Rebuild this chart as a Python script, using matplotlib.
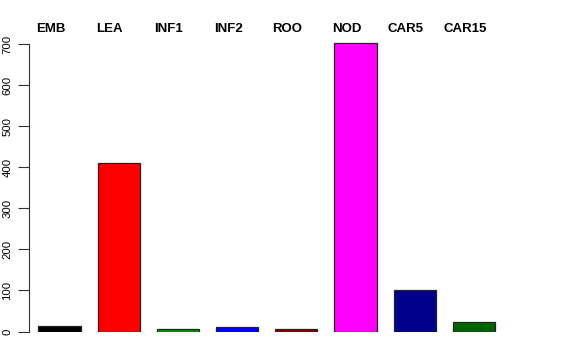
import numpy as np
import matplotlib
matplotlib.use("Agg")
import matplotlib.pyplot as plt

plt.rcParams['font.family'] = ['Liberation Sans', 'DejaVu Sans']

# sample groups and their values
groups = ["EMB", "LEA", "INF1", "INF2", "ROO", "NOD", "CAR5", "CAR15"]
values = [14, 411, 7, 10, 6, 702, 102, 24]
colors = ["black", "red", "#009a00", "blue", "#8b0000", "magenta", "#00008b", "#006400"]
yticks = [0, 100, 200, 300, 400, 500, 600, 700]

W, H = 576, 360
fig = plt.figure(figsize=(W / 100, H / 100), dpi=100)

# axes placed in pixel units to mimic the R barplot layout
unit = 59.2          # px per bar step
left_px = 29
x0 = -(59.5 - left_px) / unit
x1 = 7.8
bottom_px = H - 331.5
ppu = 287.5 / 700    # px per data unit
ytop = 712
ax = fig.add_axes([left_px / W, bottom_px / H,
                   (x1 - x0) * unit / W, ytop * ppu / H])

x = np.arange(len(groups))
ax.bar(x, values, width=0.71, color=colors, edgecolor="#222222", linewidth=0.9)

ax.set_xlim(x0, x1)
ax.set_ylim(0, ytop)
for s in ["top", "right", "bottom"]:
    ax.spines[s].set_visible(False)
ax.spines["left"].set_bounds(0, 700)
ax.spines["left"].set_color("#333333")
ax.set_xticks([])
ax.set_yticks(yticks)
ax.set_yticklabels([str(t) for t in yticks], rotation=90, va="center")
ax.tick_params(axis="y", length=8, width=0.8, color="#333333", labelsize=8.2, pad=4)

# group names along the top
for xi, g in zip(x, groups):
    fig.text((left_px + (xi - x0) * unit - 9) / W, 1 - 29.5 / H, g,
             ha="center", va="center", fontsize=9.5, fontweight="bold")

fig.savefig("out.png", dpi=100)
